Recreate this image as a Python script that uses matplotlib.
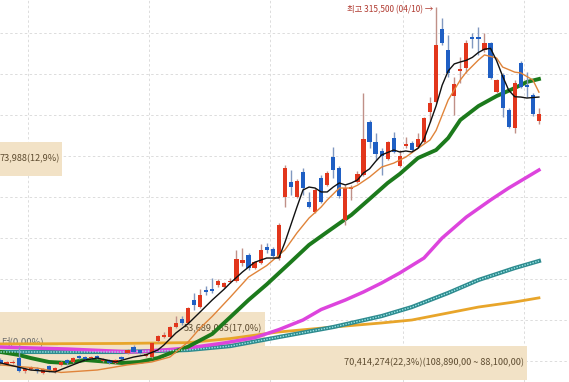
import matplotlib.pyplot as plt
import numpy as np

plt.rcParams['font.family'] = ['Noto Sans CJK KR', 'DejaVu Sans']

# daily candles (oldest -> newest)
opens = [100400, 98000, 98600, 101600, 93700, 94900, 94900, 92500, 96700, 93100,
         97400, 100400, 99200, 102800, 102200, 101600, 102800, 99800, 100400, 98600,
         102200, 104700, 108300, 106500, 102800, 102200, 112000, 114400, 114400, 120500,
         125400, 123000, 137000, 132700, 143100, 143700, 146200, 144900, 148000, 148600,
         159600, 164500, 156500, 159600, 169300, 168100, 162600, 199800, 209000, 199800,
         215100, 196800, 190700, 211400, 207200, 224200, 217500, 185800, 204700, 209000,
         213300, 245600, 233400, 227900, 223000, 235800, 218700, 230900, 232800, 230300,
         233400, 251700, 257800, 302300, 289500, 261400, 276700, 278500, 297400, 297400,
         289500, 293800, 263900, 274300, 252900, 241900, 281600, 268200, 262100, 246200]
highs = [101600, 99800, 100400, 108300, 96100, 96700, 96100, 95500, 97400, 96100,
         99800, 101000, 102200, 103500, 102800, 102800, 103500, 101600, 101000, 101000,
         102800, 107100, 109600, 107100, 104700, 111400, 115700, 117500, 121100, 127200,
         127200, 132700, 141300, 143700, 145500, 150400, 149800, 148000, 150400, 167500,
         168700, 165700, 160800, 171200, 171800, 169300, 184000, 219300, 216300, 210800,
         217500, 202900, 205300, 213300, 215700, 230300, 218700, 207200, 207200, 215700,
         263300, 246800, 238900, 229700, 234000, 239500, 228500, 236400, 234000, 238900,
         248600, 260800, 315500, 309000, 298700, 273000, 285200, 295600, 299900, 303500,
         299900, 294400, 271800, 275500, 254100, 271200, 282800, 276100, 263300, 254100]
lows = [97400, 97400, 98000, 93100, 92500, 94300, 92500, 91900, 93100, 92500,
        96700, 97400, 98600, 101000, 100400, 101000, 101000, 99200, 98000, 98000,
        100400, 104100, 104700, 104100, 102200, 101600, 111400, 113800, 113800, 119900,
        121800, 122400, 130900, 132100, 140100, 141300, 144900, 144300, 147400, 148000,
        157700, 155300, 155900, 159000, 165700, 163200, 161400, 193700, 201100, 199200,
        201100, 193100, 190100, 196200, 206500, 211400, 199200, 182800, 198000, 208400,
        212600, 229700, 222400, 213300, 222400, 226700, 218100, 229700, 227900, 229700,
        232800, 245600, 257200, 292600, 273000, 249900, 269400, 275500, 290700, 286500,
        288300, 271800, 263300, 248600, 241900, 238900, 266300, 260800, 249200, 244400]
closes = [98600, 99200, 99200, 93700, 94900, 96100, 93700, 94900, 94300, 95500,
          99200, 98600, 101600, 101600, 101000, 102200, 101600, 101000, 98600, 100400,
          101000, 106500, 105300, 104700, 104100, 110800, 115000, 115700, 120500, 123000,
          123000, 132100, 134000, 140100, 141900, 142500, 148600, 147400, 148600, 162000,
          161400, 156500, 160200, 167500, 167500, 163800, 182800, 217500, 205900, 209600,
          205300, 193700, 204100, 196800, 214500, 216300, 200400, 205300, 205900, 213900,
          235200, 233400, 226100, 224800, 233400, 227300, 224800, 232200, 228500, 235200,
          248000, 257200, 292600, 293800, 275500, 268800, 277900, 293800, 296200, 296200,
          293800, 272400, 271200, 254100, 242500, 269400, 266900, 266900, 250500, 250500]

# moving averages (candle index, price)
ma5_i = [0, 5, 9, 14, 16, 19, 22, 24, 26, 27, 29, 31, 33, 35, 37, 38, 40, 42, 44, 46,
         47, 49, 50, 51, 52, 53, 54, 55, 56, 57, 58, 59, 60, 61, 62, 63, 65, 66, 67, 68,
         69, 70, 71, 72, 73, 74, 75, 76, 77, 78, 79, 80, 81, 82, 83, 84, 85, 86, 87, 88, 89]
ma5_v = [98600, 94300, 93100, 100400, 101600, 99200, 102200, 103500, 106500, 109500,
         116900, 122500, 129700, 137000, 143700, 147400, 154100, 160000, 162600, 162600,
         172000, 193700, 204100, 205900, 205300, 202900, 202900, 205900, 208400, 207200,
         208400, 210200, 214500, 217000, 221500, 225500, 228500, 227300, 227900, 227300,
         229500, 235000, 245000, 255400, 268000, 276700, 281000, 282200, 283200, 285000,
         288000, 290000, 290500, 283000, 273500, 265000, 261000, 260800, 260200, 260500, 260800]
ma10_i = [0, 6, 10, 16, 21, 25, 28, 31, 33, 35, 38, 41, 44, 47, 49, 51, 53, 54, 56, 58,
          59, 61, 63, 65, 67, 69, 71, 72, 74, 76, 77, 79, 80, 82, 83, 85, 86, 88, 89]
ma10_v = [97400, 95500, 92800, 94300, 97400, 99200, 102200, 111400, 119900, 127000,
          138800, 151000, 158000, 167500, 177900, 187000, 193700, 198000, 205300, 205300,
          207000, 212000, 218100, 220500, 224200, 229500, 234600, 240400, 259000, 271200,
          276000, 283400, 286500, 284600, 279100, 276000, 275500, 271200, 263800]
ma20_i = [0, 3, 5, 8, 11, 14, 18, 20, 23, 26, 28, 31, 35, 38, 41, 44, 48, 51, 54, 58,
          61, 64, 66, 69, 72, 74, 76, 79, 82, 85, 87, 89]
ma20_v = [105300, 103500, 101600, 99200, 98600, 100400, 99200, 98600, 99200, 101600,
          104500, 108500, 116300, 126600, 137000, 146500, 160200, 170600, 178500, 188900,
          198600, 208400, 213900, 223600, 228500, 235800, 246800, 255300, 261400, 266300,
          270000, 271800]
ma60_i = [0, 11, 22, 27, 31, 37, 42, 46, 50, 53, 57, 60, 63, 66, 70, 73, 77, 81, 84, 89]
ma60_v = [108300, 107100, 105300, 106500, 107700, 110800, 114000, 118900, 124800, 131200,
          137000, 141900, 147400, 153500, 162600, 174800, 187600, 198000, 205300, 216300]
ma120_i = [0, 20, 31, 38, 46, 55, 63, 68, 74, 79, 85, 89]
ma120_v = [105300, 105300, 106500, 108900, 114400, 120500, 127200, 132700, 141300,
           149200, 156500, 160800]
ma240_i = [0, 20, 31, 38, 46, 55, 63, 68, 74, 79, 85, 89]
ma240_v = [110200, 110500, 111000, 113500, 117500, 120500, 123000, 124800, 129100,
           132700, 135800, 138300]

# price-by-volume bars (only the three reaching into view)
vol_lo = [88100, 108890, 212840]
vol_hi = [108890, 129680, 233630]
vol_pct = [22.3, 17.0, 12.9]
vol_txt = ['70,414,274(22,3%)(108,890,00 ~ 88,100,00)', '53,689,065(17,0%)', '73,988(12,9%)']

hgrid = [300000, 275000, 250000, 225000, 200000, 175000, 150000, 125000, 100000]
vgrid = [4.5, 24.5, 44.5, 66.5, 86.5]

fig = plt.figure(figsize=(5.69, 3.82), dpi=100)
ax = fig.add_axes([0, 0, 1, 1])
ax.set_xlim(-0.08, 93.97)
ax.set_ylim(86980, 320000)
ax.axis('off')

for g in hgrid:
    ax.axhline(g, color='#dcdcdc', lw=0.7, ls=(0, (2.5, 2.5)), zorder=0)
for g in vgrid:
    ax.axvline(g, color='#dcdcdc', lw=0.7, ls=(0, (2.5, 2.5)), zorder=0)

# volume profile bars start far off to the left
origin = -95.1
per_pct = 8.165
for lo, hi, pct, txt in zip(vol_lo, vol_hi, vol_pct, vol_txt):
    end = origin + pct * per_pct
    ax.fill_between([origin, end], lo, hi, color='#f2e2c6', lw=0, zorder=0.5)
    ax.text(end - 0.4, (lo + hi) / 2, txt, ha='right', va='center',
            fontsize=6.6, color='#5e4c30', zorder=1)

ax.text(7.2, 111500, '터(0,00%)', ha='right', va='center', fontsize=6.8,
        color='#6a6a6a', zorder=1)
ax.plot([7.0, 9.3], [110300, 110300], color='#555555', lw=0.8, zorder=1)

# moving averages
ax.plot(ma240_i, ma240_v, color='#e8a52a', lw=2.0, zorder=2)
ax.plot(ma120_i, ma120_v, color='#2e8b8f', lw=3.0, zorder=2)
ax.plot(ma120_i, ma120_v, color='#9ae6e6', lw=1.0, ls=(0, (1, 1)), zorder=2.1)
ax.plot(ma60_i, ma60_v, color='#dd44dd', lw=2.5, zorder=2)
ax.plot(ma20_i, ma20_v, color='#1c7a1c', lw=2.8, zorder=2)

# candles
idx = np.arange(len(closes))
o = np.array(opens)
c = np.array(closes)
up = c >= o
col = np.where(up, '#e2361c', '#1f5fc4')
wick = np.where(up, '#c09088', '#8098c0')
ax.vlines(idx, lows, highs, colors=wick, lw=1.0, zorder=3)
body_lo = np.minimum(o, c)
body_h = np.maximum(np.abs(c - o), 700)
ax.bar(idx, body_h, bottom=body_lo, width=0.7, color=col, lw=0, zorder=4)

ax.plot(ma10_i, ma10_v, color='#e0843a', lw=1.0, zorder=5)
ax.plot(ma5_i, ma5_v, color='#111111', lw=1.0, zorder=5)

ax.text(71.6, 313900, '최고 315,500 (04/10) →', ha='right', va='center',
        fontsize=6, color='#b03a30', zorder=6)

fig.savefig('out.png', dpi=100, facecolor='white')
